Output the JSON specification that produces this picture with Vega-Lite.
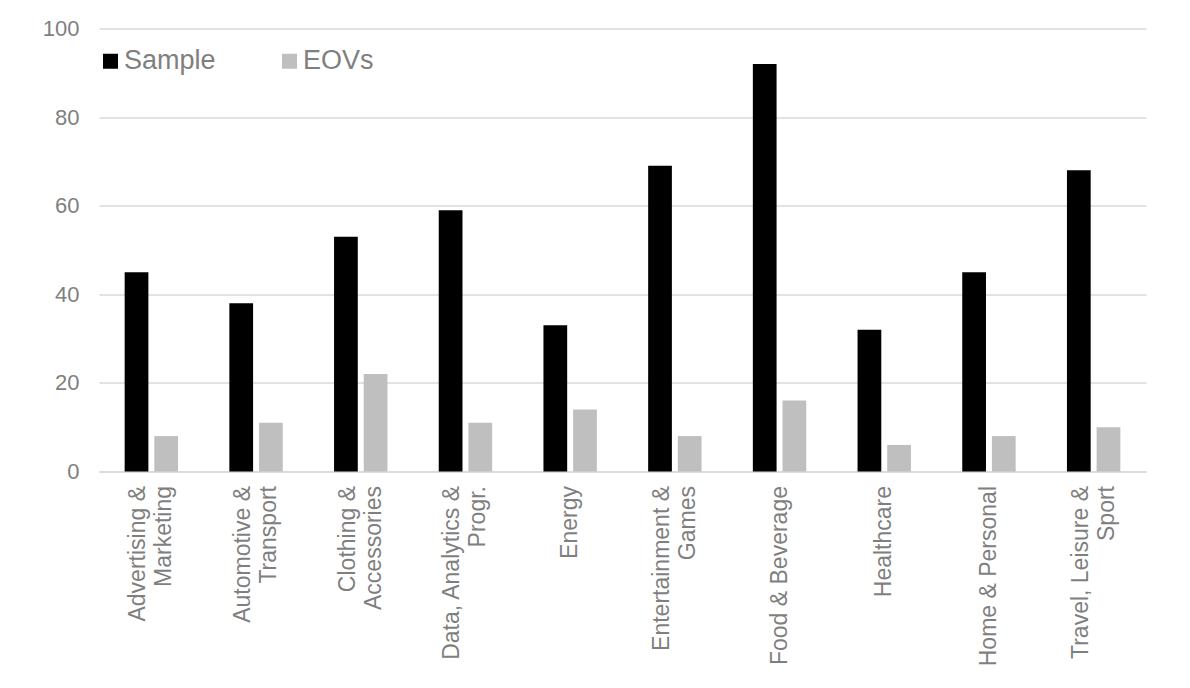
{
  "$schema": "https://vega.github.io/schema/vega-lite/v6.json",
  "width": 1047,
  "height": 443,
  "autosize": {"type": "none"},
  "padding": {"left": 99, "top": 28.5, "right": 44, "bottom": 216.5},
  "background": "white",
  "config": {"view": {"stroke": null}, "font": "Liberation Sans"},
  "data": {
    "values": [
      {"category": "Advertising & Marketing", "series": "Sample", "value": 45},
      {"category": "Advertising & Marketing", "series": "EOVs", "value": 8},
      {"category": "Automotive & Transport", "series": "Sample", "value": 38},
      {"category": "Automotive & Transport", "series": "EOVs", "value": 11},
      {"category": "Clothing & Accessories", "series": "Sample", "value": 53},
      {"category": "Clothing & Accessories", "series": "EOVs", "value": 22},
      {"category": "Data, Analytics & Progr.", "series": "Sample", "value": 59},
      {"category": "Data, Analytics & Progr.", "series": "EOVs", "value": 11},
      {"category": "Energy", "series": "Sample", "value": 33},
      {"category": "Energy", "series": "EOVs", "value": 14},
      {"category": "Entertainment & Games", "series": "Sample", "value": 69},
      {"category": "Entertainment & Games", "series": "EOVs", "value": 8},
      {"category": "Food & Beverage", "series": "Sample", "value": 92},
      {"category": "Food & Beverage", "series": "EOVs", "value": 16},
      {"category": "Healthcare", "series": "Sample", "value": 32},
      {"category": "Healthcare", "series": "EOVs", "value": 6},
      {"category": "Home & Personal", "series": "Sample", "value": 45},
      {"category": "Home & Personal", "series": "EOVs", "value": 8},
      {"category": "Travel, Leisure & Sport", "series": "Sample", "value": 68},
      {"category": "Travel, Leisure & Sport", "series": "EOVs", "value": 10}
    ]
  },
  "mark": {"type": "bar"},
  "encoding": {
    "x": {
      "field": "category",
      "type": "nominal",
      "sort": null,
      "scale": {"paddingInner": 0.49, "paddingOuter": 0.245},
      "axis": {
        "title": null,
        "labelAngle": -90,
        "labelAlign": "right",
        "labelBaseline": "middle",
        "ticks": false,
        "domainColor": "#d9d9d9",
        "domainWidth": 1.5,
        "labelColor": "#7f7f7f",
        "labelFontSize": 23,
        "labelLineHeight": 26,
        "labelPadding": 14,
        "labelLimit": 400,
        "labelOffset": {"condition": {"test": "length(datum.value) > 16", "value": -13}, "value": 0},
        "labelExpr": "length(datum.label) > 16 ? split(replace(datum.label, '& ', '&|'), '|') : datum.label"
      }
    },
    "xOffset": {
      "field": "series",
      "sort": ["Sample", "EOVs"],
      "scale": {"paddingInner": 0.2, "paddingOuter": 0}
    },
    "y": {
      "field": "value",
      "type": "quantitative",
      "scale": {"domain": [0, 100]},
      "axis": {
        "title": null,
        "domain": false,
        "ticks": false,
        "values": [0, 20, 40, 60, 80, 100],
        "gridColor": "#d9d9d9",
        "gridWidth": 1.5,
        "labelColor": "#7f7f7f",
        "labelFontSize": 22,
        "labelPadding": 20
      }
    },
    "color": {
      "field": "series",
      "type": "nominal",
      "sort": ["Sample", "EOVs"],
      "scale": {"domain": ["Sample", "EOVs"], "range": ["#000000", "#bfbfbf"]},
      "legend": {
        "title": null,
        "orient": "none",
        "legendX": -2,
        "legendY": 19,
        "direction": "horizontal",
        "symbolType": "square",
        "symbolSize": 225,
        "symbolStrokeWidth": 0,
        "labelFontSize": 27,
        "labelColor": "#7f7f7f",
        "labelOffset": 0,
        "columnPadding": 60,
        "padding": 0
      }
    }
  }
}
